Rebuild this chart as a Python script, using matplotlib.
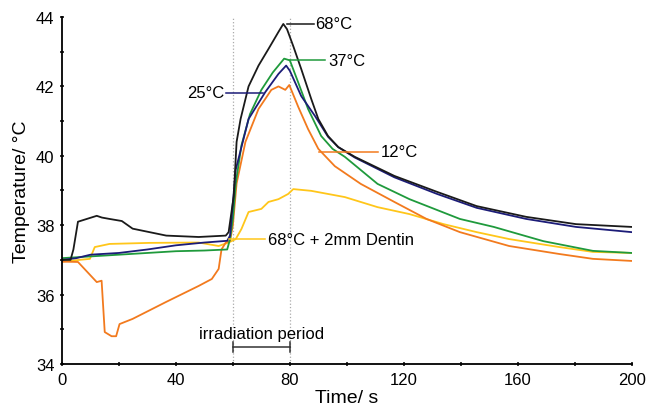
import matplotlib.pyplot as plt

plt.rcParams['font.family'] = ['Liberation Sans', 'DejaVu Sans']

# --- data (time in s, temperature in degC) ---
t_68 = [0, 3, 4, 5, 5.6, 8.7, 12.2, 14, 16.7, 21, 24.8, 30.7, 36.6, 48, 57.5, 58.5,
        60.3, 61.3, 62.7, 65.5, 69, 72.5, 76, 77.7, 79, 81.2, 84, 87.5, 90, 93.4, 97,
        102.8, 116.7, 131.7, 145.6, 163, 180.5, 200]
T_68 = [37.0, 37.0, 37.3, 37.8, 38.1, 38.18, 38.27, 38.22, 38.18, 38.12, 37.9, 37.8,
        37.7, 37.66, 37.7, 37.8, 38.84, 40.4, 41.06, 42.0, 42.6, 43.08, 43.57, 43.8,
        43.65, 43.16, 42.5, 41.64, 41.06, 40.57, 40.25, 39.97, 39.42, 38.96, 38.55,
        38.24, 38.03, 37.95]

t_25 = [0, 5, 10, 20, 30, 40, 50, 58, 59, 61, 65.5, 71.4, 76, 78.7, 80, 84, 88.8, 93.4,
        97, 102.8, 116.7, 131.7, 145.6, 163, 180.5, 200]
T_25 = [37.0, 37.05, 37.15, 37.2, 37.3, 37.42, 37.5, 37.55, 37.7, 39.6, 41.06, 41.84,
        42.36, 42.6, 42.45, 41.72, 41.15, 40.55, 40.25, 39.95, 39.38, 38.9, 38.5, 38.18,
        37.95, 37.8]

t_37 = [0, 10, 20, 30, 40, 50, 58, 59, 60, 61, 63, 66, 70, 74, 78, 80, 83, 86.4, 91,
        95, 99.3, 110.8, 122, 139.7, 151.6, 169, 186.4, 200]
T_37 = [37.05, 37.1, 37.15, 37.2, 37.25, 37.27, 37.3, 37.6, 38.2, 39.2, 40.3, 41.2,
        41.9, 42.4, 42.8, 42.75, 42.1, 41.35, 40.57, 40.2, 39.97, 39.19, 38.75, 38.18,
        37.95, 37.54, 37.26, 37.2]

t_12 = [0, 5.6, 12.2, 13.9, 15, 17.4, 19, 20.2, 24.8, 36.6, 48, 52.6, 55, 56, 57.5,
        59, 60, 61.3, 64.4, 69, 73.5, 76, 78.4, 79.8, 83, 86.4, 90, 95.8, 104.9, 116.7,
        128, 139.7, 157, 174.6, 186.4, 200]
T_12 = [36.95, 36.94, 36.36, 36.4, 34.92, 34.8, 34.8, 35.15, 35.3, 35.79, 36.25, 36.45,
        36.74, 37.3, 37.5, 37.55, 38.0, 39.2, 40.4, 41.35, 41.9, 42.0, 41.9, 42.04,
        41.4, 40.77, 40.2, 39.7, 39.19, 38.67, 38.18, 37.8, 37.4, 37.17, 37.03, 36.97]

t_dent = [0, 9.8, 11.5, 16.7, 30.7, 48, 55, 58.5, 61, 63, 65.5, 70, 72.5, 76, 79.4,
          81.2, 87.5, 99.3, 110.8, 122, 134, 145.6, 157, 174.6, 186.4, 200]
T_dent = [36.95, 37.03, 37.37, 37.46, 37.49, 37.5, 37.4, 37.5, 37.6, 37.89, 38.38, 38.47,
          38.67, 38.75, 38.9, 39.04, 38.99, 38.81, 38.52, 38.32, 38.03, 37.8, 37.6, 37.37,
          37.23, 37.2]

black, navy, green, orange, yellow = '#1a1a1a', '#1c1c78', '#1f9a3c', '#f27a1e', '#ffc61a'

fig = plt.figure(figsize=(6.48, 4.10), dpi=100)
ax = fig.add_axes([0.0957, 0.1098, 0.879, 0.8463])

ax.axvline(60, color='#aaaaaa', lw=0.9, ls=':')
ax.axvline(80, color='#aaaaaa', lw=0.9, ls=':')

ax.plot(t_dent, T_dent, color=yellow, lw=1.3)
ax.plot(t_12, T_12, color=orange, lw=1.3)
ax.plot(t_37, T_37, color=green, lw=1.3)
ax.plot(t_25, T_25, color=navy, lw=1.3)
ax.plot(t_68, T_68, color=black, lw=1.3)

# labels with leader lines
fs = 12
ax.plot([79, 88.5], [43.8, 43.8], color=black, lw=1.1)
ax.text(89, 43.8, '68°C', fontsize=fs, va='center', ha='left')
ax.plot([80, 92.5], [42.76, 42.76], color=green, lw=1.1)
ax.text(93.5, 42.76, '37°C', fontsize=fs, va='center', ha='left')
ax.plot([57.5, 70.7], [41.81, 41.81], color=navy, lw=1.1)
ax.text(57, 41.81, '25°C', fontsize=fs, va='center', ha='right')
ax.plot([90.2, 110.8], [40.11, 40.11], color=orange, lw=1.1)
ax.text(112, 40.11, '12°C', fontsize=fs, va='center', ha='left')
ax.plot([58.5, 71.4], [37.6, 37.6], color=yellow, lw=1.1)
ax.text(72.5, 37.6, '68°C + 2mm Dentin', fontsize=fs, va='center', ha='left')

# irradiation bracket
ax.plot([60, 80], [34.49, 34.49], color='#333333', lw=1.1)
ax.plot([60, 60], [34.35, 34.63], color='#333333', lw=1.1)
ax.plot([80, 80], [34.35, 34.63], color='#333333', lw=1.1)
ax.text(70, 34.88, 'irradiation period', fontsize=12, ha='center', va='center')

ax.set_xlim(0, 200)
ax.set_ylim(34, 44)
ax.set_xticks([0, 40, 80, 120, 160, 200])
ax.set_xticks(range(0, 201, 20), minor=True)
ax.set_yticks([34, 36, 38, 40, 42, 44])
ax.set_yticks(range(34, 45), minor=True)
ax.tick_params(which='both', labelsize=12, length=3, width=1.1, direction='inout', pad=4)
ax.spines['top'].set_visible(False)
ax.spines['right'].set_visible(False)
for s in ('left', 'bottom'):
    ax.spines[s].set_linewidth(1.3)

ax.set_xlabel('Time/ s', fontsize=14, labelpad=2)
ax.set_ylabel('Temperature/ °C', fontsize=14, labelpad=4)

fig.savefig('out.png', dpi=100)
